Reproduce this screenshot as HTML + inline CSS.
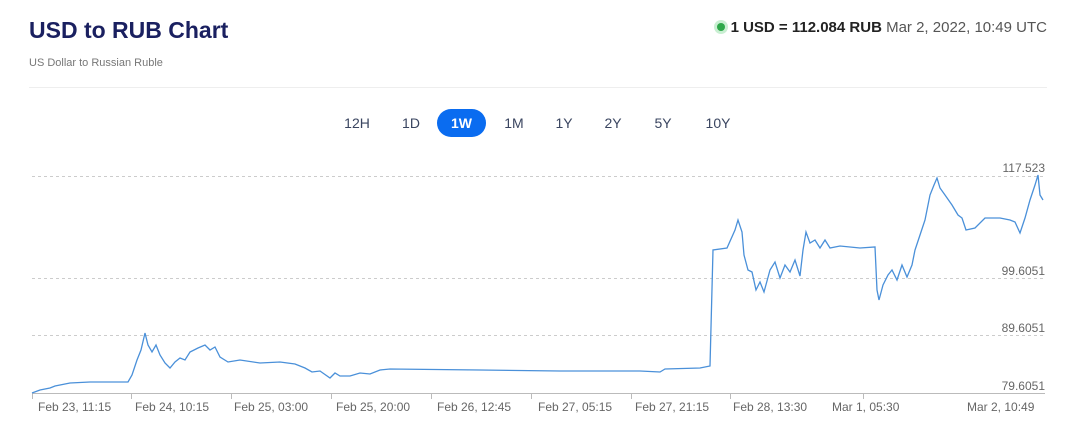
<!DOCTYPE html>
<html><head><meta charset="utf-8"><style>
body{margin:0;width:1068px;height:431px;background:#fff;font-family:"Liberation Sans",sans-serif;position:relative;overflow:hidden}
.t{position:absolute;white-space:nowrap}
.btn{position:absolute;top:109px;height:28px;line-height:28px;font-size:14px;color:#3a4560;text-align:center}
</style></head><body>
<div class="t" style="left:29px;top:17px;font-size:23px;font-weight:bold;color:#1a2060">USD to RUB Chart</div>
<div class="t" style="left:29px;top:57px;font-size:11px;color:#777">US Dollar to Russian Ruble</div>
<div class="t" style="right:21px;top:19px;font-size:15px;color:#333"><span style="display:inline-block;width:8px;height:8px;border-radius:50%;background:#2ea84a;box-shadow:0 0 0 3px #c9efd2;margin-right:6px;vertical-align:1px"></span><b style="color:#222">1 USD = 112.084 RUB</b> <span style="color:#555">Mar 2, 2022, 10:49 UTC</span></div>
<div style="position:absolute;left:29px;top:87px;width:1018px;height:1px;background:#eee"></div>
<div class="btn" style="left:340px;width:34px">12H</div>
<div class="btn" style="left:396px;width:30px">1D</div>
<div class="btn" style="left:437px;width:49px;background:#0a6cf0;color:#fff;border-radius:14px;font-weight:bold">1W</div>
<div class="btn" style="left:498px;width:32px">1M</div>
<div class="btn" style="left:549px;width:30px">1Y</div>
<div class="btn" style="left:598px;width:30px">2Y</div>
<div class="btn" style="left:648px;width:30px">5Y</div>
<div class="btn" style="left:700px;width:36px">10Y</div>
<svg width="1068" height="431" style="position:absolute;left:0;top:0">
<g stroke="#ccc" stroke-dasharray="3,3" stroke-width="1">
<line x1="32" y1="176.5" x2="1045" y2="176.5"/><line x1="32" y1="278.5" x2="1045" y2="278.5"/><line x1="32" y1="335.5" x2="1045" y2="335.5"/></g>
<line x1="32" y1="393.5" x2="1045" y2="393.5" stroke="#bbb"/>
<g stroke="#bbb">
<line x1="32.5" y1="393" x2="32.5" y2="399"/><line x1="131.5" y1="393" x2="131.5" y2="399"/><line x1="231.5" y1="393" x2="231.5" y2="399"/><line x1="331.5" y1="393" x2="331.5" y2="399"/><line x1="431.5" y1="393" x2="431.5" y2="399"/><line x1="531.5" y1="393" x2="531.5" y2="399"/><line x1="631.5" y1="393" x2="631.5" y2="399"/><line x1="730.5" y1="393" x2="730.5" y2="399"/><line x1="863.5" y1="393" x2="863.5" y2="399"/></g>
<g font-size="12" fill="#666" text-anchor="end">
<text x="1045" y="172">117.523</text><text x="1045" y="275">99.6051</text><text x="1045" y="332">89.6051</text><text x="1045" y="390">79.6051</text></g>
<g font-size="12" fill="#666">
<text x="38" y="411">Feb 23, 11:15</text><text x="135" y="411">Feb 24, 10:15</text><text x="234" y="411">Feb 25, 03:00</text><text x="336" y="411">Feb 25, 20:00</text><text x="437" y="411">Feb 26, 12:45</text><text x="538" y="411">Feb 27, 05:15</text><text x="635" y="411">Feb 27, 21:15</text><text x="733" y="411">Feb 28, 13:30</text><text x="832" y="411">Mar 1, 05:30</text><text x="967" y="411">Mar 2, 10:49</text></g>
<polyline fill="none" stroke="#4a90d9" stroke-width="1.3" points="32,393 40,390 50,388 55,386 70,383 90,382 115,382 128,382 132,375 137,360 141,350 145,333 148,345 152,352 156,345 160,355 165,363 170,368 175,362 180,358 185,360 190,352 198,348 205,345 210,350 215,347 220,357 228,362 240,360 260,363 280,362 295,364 305,368 312,372 320,371 330,378 335,373 340,376 350,376 360,373 370,374 380,370 390,369 480,370 560,371 640,371 660,372 665,369 700,368 710,366 713,250 727,248 735,230 738,220 742,232 744,255 748,270 752,272 756,290 760,282 764,292 770,270 775,262 780,278 785,265 790,272 795,260 800,276 803,250 806,232 810,243 815,240 820,248 825,240 830,248 840,246 860,248 875,247 877,290 879,300 883,285 888,275 892,270 897,280 902,265 907,277 912,265 915,250 920,235 925,220 930,195 934,185 937,178 940,188 945,195 952,205 958,215 962,218 966,230 975,228 985,218 1000,218 1010,220 1015,222 1020,233 1025,218 1030,200 1035,185 1038,175 1040,195 1043,200"/>
</svg>
</body></html>
